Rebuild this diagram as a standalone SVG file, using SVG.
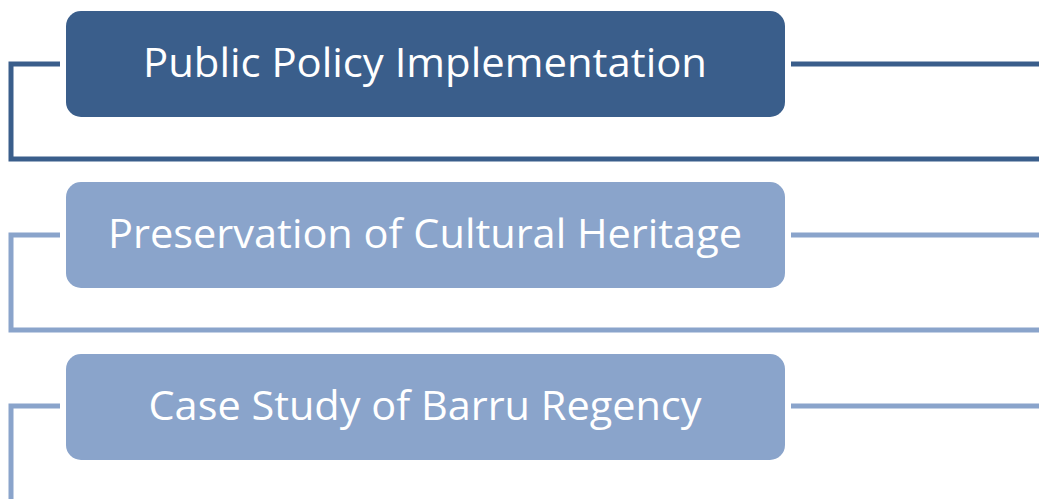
<svg xmlns="http://www.w3.org/2000/svg" width="1039" height="499" viewBox="0 0 1039 499">
<style>
.dark{fill:#3A5E8B}
.light{fill:#8AA4CB}
.cd{fill:none;stroke:#3A5E8B;stroke-width:5}
.cl{fill:none;stroke:#8AA4CB;stroke-width:5}
.t{fill:#FFFFFF;font-family:"Open Sans","Liberation Sans",sans-serif;font-size:40px;text-anchor:middle}
</style>
<rect width="1039" height="499" fill="#FFFFFF"/>
<g id="connectors">
<path class="cd" d="M60,64 H11 V159 H1039"/>
<path class="cd" d="M791,64 H1039"/>
<path class="cl" d="M60,235 H11 V330 H1039"/>
<path class="cl" d="M791,235 H1039"/>
<path class="cl" d="M60,406 H11 V505"/>
<path class="cl" d="M791,406 H1039"/>
</g>
<g id="node1">
<rect class="dark" x="66" y="11" width="719" height="106" rx="15"/>
<text class="t" x="425" y="77" textLength="564" lengthAdjust="spacingAndGlyphs">Public Policy Implementation</text>
</g>
<g id="node2">
<rect class="light" x="66" y="182" width="719" height="106" rx="15"/>
<text class="t" x="425" y="248" textLength="634" lengthAdjust="spacingAndGlyphs">Preservation of Cultural Heritage</text>
</g>
<g id="node3">
<rect class="light" x="66" y="354" width="719" height="106" rx="15"/>
<text class="t" x="425" y="420" textLength="553" lengthAdjust="spacingAndGlyphs">Case Study of Barru Regency</text>
</g>
</svg>
